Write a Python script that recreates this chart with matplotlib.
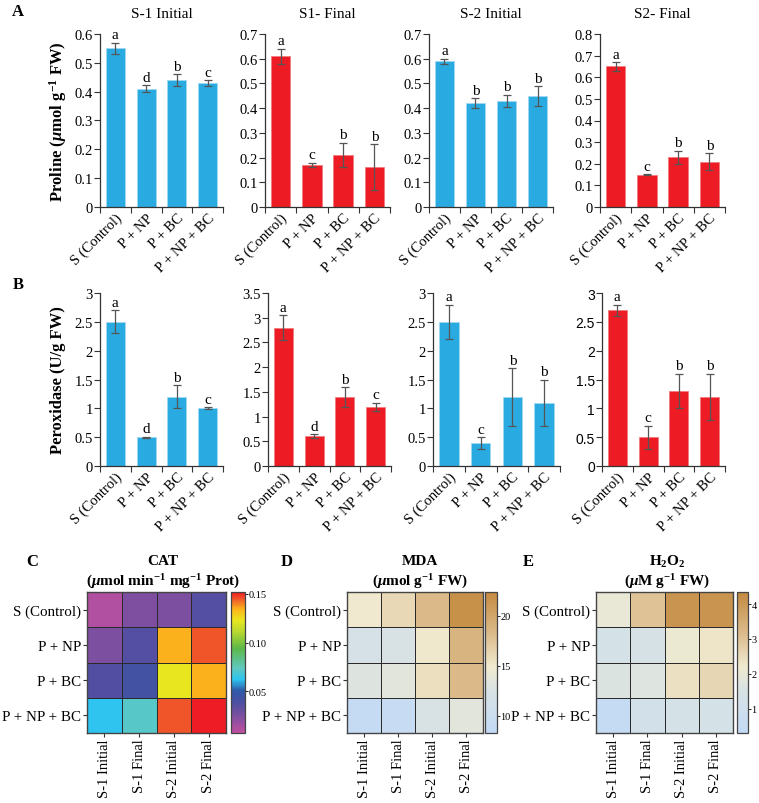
import numpy as np
import matplotlib
matplotlib.use('Agg')
import matplotlib.pyplot as plt
from matplotlib.colors import LinearSegmentedColormap

plt.rcParams['font.family'] = 'serif'
plt.rcParams['font.serif'] = ['Liberation Serif']
plt.rcParams['mathtext.fontset'] = 'custom'
plt.rcParams['mathtext.rm'] = 'Liberation Serif'
plt.rcParams['mathtext.it'] = 'Liberation Serif:italic'
plt.rcParams['mathtext.bf'] = 'Liberation Serif:bold'
plt.rcParams['mathtext.bfit'] = 'Liberation Serif:bold:italic'

# ---------------- data ----------------
treatments = ['S (Control)', 'P + NP', 'P + BC', 'P + NP + BC']
stages = ['S-1 Initial', 'S-1 Final', 'S-2 Initial', 'S-2 Final']
bar_titles = ['S-1 Initial', 'S1- Final', 'S-2 Initial', 'S2- Final']

proline = [[0.55, 0.41, 0.44, 0.43],
           [0.61, 0.17, 0.21, 0.16],
           [0.59, 0.42, 0.43, 0.45],
           [0.65, 0.15, 0.23, 0.21]]
proline_err = [[0.02, 0.012, 0.02, 0.01],
               [0.03, 0.01, 0.05, 0.093],
               [0.01, 0.02, 0.025, 0.04],
               [0.02, 0.003, 0.03, 0.04]]
proline_sig = [['a', 'd', 'b', 'c'], ['a', 'c', 'b', 'b'],
               ['a', 'b', 'b', 'b'], ['a', 'c', 'b', 'b']]
proline_ymax = [0.6, 0.7, 0.7, 0.8]

perox = [[2.5, 0.5, 1.2, 1.0],
         [2.8, 0.6, 1.4, 1.2],
         [2.5, 0.4, 1.2, 1.1],
         [2.7, 0.5, 1.3, 1.2]]
perox_err = [[0.2, 0.01, 0.2, 0.02],
             [0.25, 0.04, 0.2, 0.08],
             [0.3, 0.1, 0.5, 0.4],
             [0.1, 0.2, 0.3, 0.4]]
perox_sig = [['a', 'd', 'b', 'c'], ['a', 'd', 'b', 'c'],
             ['a', 'c', 'b', 'b'], ['a', 'c', 'b', 'b']]
perox_ymax = [3, 3.5, 3, 3]

# heatmaps: rows = treatments, cols = stages
cat = [[0.011, 0.024, 0.025, 0.036],
       [0.025, 0.036, 0.135, 0.145],
       [0.037, 0.042, 0.123, 0.135],
       [0.062, 0.072, 0.145, 0.152]]
mda = [[15.0, 16.2, 18.4, 21.8],
       [12.0, 12.5, 15.1, 18.8],
       [13.0, 13.5, 15.7, 18.4],
       [9.0, 9.3, 12.5, 13.5]]
h2o2 = [[2.0, 3.0, 4.1, 4.1],
        [1.3, 1.4, 2.1, 2.3],
        [1.6, 1.7, 2.4, 2.6],
        [0.5, 1.2, 1.3, 1.3]]

BLUE = '#29abe2'
RED = '#ed1c24'
bar_colors = [BLUE, RED, BLUE, RED]

W, H = 759, 804
fig = plt.figure(figsize=(W / 100, H / 100), dpi=100)


def px_axes(x0, x1, y0, y1):
    return fig.add_axes([x0 / W, 1 - y1 / H, (x1 - x0) / W, (y1 - y0) / H])


def bar_panel(ax, vals, errs, sig, ymax, step, color, title=None, sans=False):
    x = np.arange(len(treatments))
    ax.bar(x, vals, width=0.62, color=color, edgecolor='#9fd8f2' if color == BLUE else '#f47a7e',
           linewidth=0.6, zorder=2)
    ax.errorbar(x, vals, yerr=errs, fmt='none', ecolor='#555555', elinewidth=0.9,
                capsize=3, capthick=0.9, zorder=3)
    for xi, v, e, s in zip(x, vals, errs, sig):
        ax.text(xi, v + e + ymax * 0.008, s, ha='center', va='bottom', fontsize=11, clip_on=False)
    ax.set_xlim(-0.5, 3.5)
    ax.set_ylim(0, ymax)
    ax.spines['top'].set_visible(False)
    ax.spines['right'].set_visible(False)
    for sp in ['left', 'bottom']:
        ax.spines[sp].set_color('#333333')
        ax.spines[sp].set_linewidth(0.9)
    ax.set_xticks(np.arange(-0.5, 4, 1))
    ax.set_xticklabels([])
    ax.set_xticks(x, minor=True)
    ax.set_xticklabels(treatments, minor=True, rotation=45, ha='right',
                       rotation_mode='anchor', fontsize=10.5)
    ax.tick_params(axis='x', which='minor', length=0, pad=3)
    ax.tick_params(axis='x', which='major', length=4, color='#333333')
    ax.tick_params(axis='y', length=4, color='#333333', labelsize=10.5, pad=1)
    ticks = np.round(np.arange(0, ymax + step / 2, step), 3)
    ax.set_yticks(ticks)
    ax.set_yticklabels(['%g' % t for t in ticks])
    if sans:
        for lab in ax.get_yticklabels():
            lab.set_family('Liberation Sans')
            lab.set_fontsize(10)
    if title:
        ax.set_title(title, fontsize=11, pad=12)


lefts_a = [(100, 223), (265, 390), (429, 553), (600, 725)]
for i in range(4):
    ax = px_axes(lefts_a[i][0], lefts_a[i][1], 35, 208)
    bar_panel(ax, proline[i], proline_err[i], proline_sig[i], proline_ymax[i], 0.1,
              bar_colors[i], title=bar_titles[i])
    if i == 0:
        ax.set_ylabel(r'Proline ($\boldsymbol{\mu}$mol g$^{\mathbf{-1}}$ FW)',
                      fontsize=12, fontweight='bold', labelpad=4)

lefts_b = [(100, 223), (268, 391), (433, 560), (602, 725)]
for i in range(4):
    ax = px_axes(lefts_b[i][0], lefts_b[i][1], 294, 467)
    bar_panel(ax, perox[i], perox_err[i], perox_sig[i], perox_ymax[i], 0.5,
              bar_colors[i], sans=(i == 3))
    if i == 0:
        ax.set_ylabel('Peroxidase (U/g FW)', fontsize=12, fontweight='bold', labelpad=6)

# ---------------- heatmaps ----------------
cat_cmap = LinearSegmentedColormap.from_list('cat', [
    (0.0, '#c04fa0'), (0.12, '#7d4fa0'), (0.22, '#4a4fa2'), (0.3, '#2f5aa8'),
    (0.38, '#2ec4ef'), (0.46, '#5fc8c0'), (0.6, '#5cb848'), (0.72, '#b8d830'),
    (0.8, '#e8e61e'), (0.88, '#fbb41a'), (0.95, '#f0592a'), (1.0, '#ee1c24')])
brown_cmap = LinearSegmentedColormap.from_list('bb', [
    (0.0, '#c2daf6'), (0.3, '#d8e2e4'), (0.47, '#f0ead0'), (0.7, '#dcbc8c'),
    (1.0, '#c48a40')])

heat_specs = [
    (cat, cat_cmap, 0.007, 0.152, [0.05, 0.10, 0.15], ['0.05', '0.10', '0.15'],
     (87, 226), (231, 245), 'CAT', r'($\boldsymbol{\mu}$mol min$^{\mathbf{-1}}$ mg$^{\mathbf{-1}}$ Prot)', 163),
    (mda, brown_cmap, 8.3, 22.4, [10, 15, 20], ['10', '15', '20'],
     (347, 483), (485, 497), 'MDA', r'($\boldsymbol{\mu}$mol g$^{\mathbf{-1}}$ FW)', 420),
    (h2o2, brown_cmap, 0.3, 4.35, [1, 2, 3, 4], ['1', '2', '3', '4'],
     (596, 733), (737, 748), r'H$_\mathbf{2}$O$_\mathbf{2}$', r'($\boldsymbol{\mu}$M g$^{\mathbf{-1}}$ FW)', 667),
]

for data, cmap, vmin, vmax, cticks, ctlabels, hx, cx, t1, t2, tc in heat_specs:
    ax = px_axes(hx[0], hx[1], 593, 734)
    mesh = ax.pcolormesh(np.array(data), cmap=cmap, vmin=vmin, vmax=vmax,
                         edgecolors='#2a2a2a', linewidth=0.7)
    ax.set_xlim(0, 4)
    ax.set_ylim(4, 0)
    ax.set_xticks(np.arange(4) + 0.5)
    ax.set_xticklabels(stages, rotation=90, fontsize=10.5)
    ax.set_yticks(np.arange(4) + 0.5)
    ax.set_yticklabels(treatments, fontsize=10.8)
    ax.tick_params(length=3, width=0.8, color='#333333', pad=1)
    for sp in ax.spines.values():
        sp.set_color('#444444')
        sp.set_linewidth(1.0)
    cax = px_axes(cx[0], cx[1], 593, 734)
    cb = fig.colorbar(mesh, cax=cax)
    cb.set_ticks(cticks)
    cb.set_ticklabels(ctlabels)
    cb.ax.tick_params(labelsize=7.5, length=2, width=0.6, pad=0.5)
    cb.outline.set_linewidth(0.9)
    cb.outline.set_edgecolor('#444444')
    fig.text(tc / W, 1 - 562 / H, t1, ha='center', va='center', fontsize=11, fontweight='bold')
    fig.text(tc / W, 1 - 582 / H, t2, ha='center', va='center', fontsize=11, fontweight='bold')

# panel letters
for lab, x, y in [('A', 18, 12), ('B', 18, 285), ('C', 32, 562), ('D', 287, 562), ('E', 528, 562)]:
    fig.text(x / W, 1 - y / H, lab, ha='center', va='center', fontsize=12, fontweight='bold')

fig.savefig('out.png', dpi=100)
